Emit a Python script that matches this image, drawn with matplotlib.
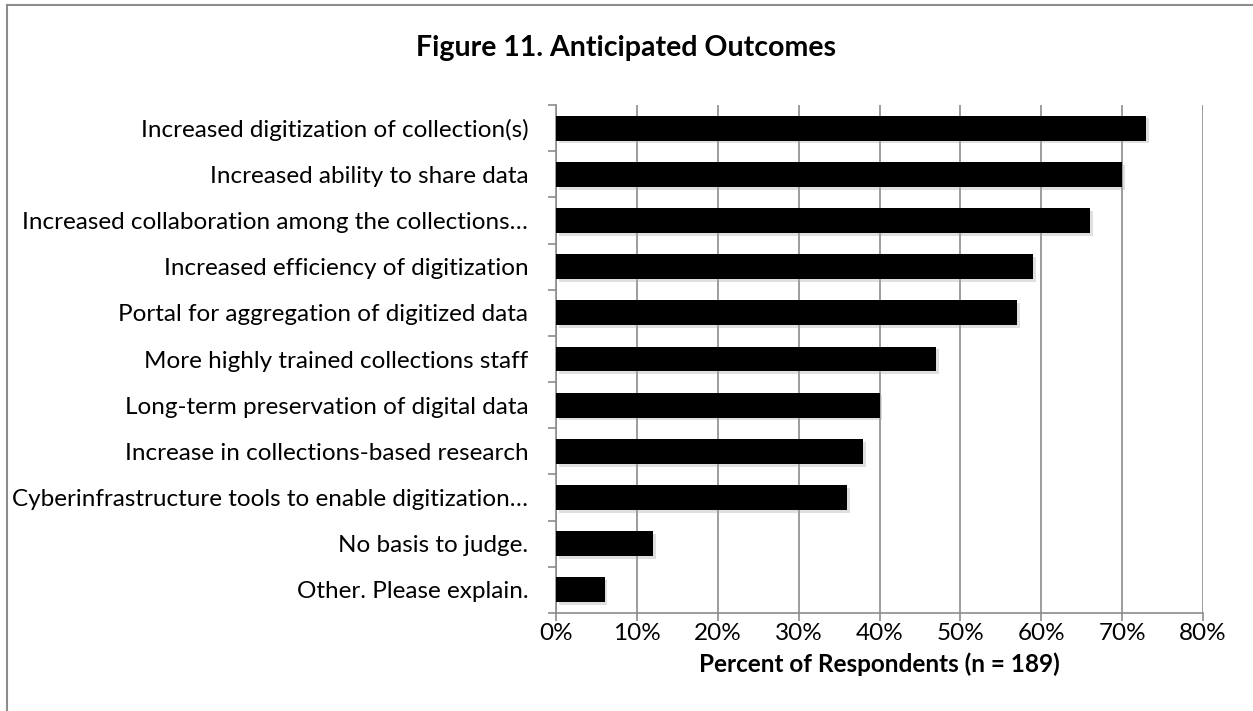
import matplotlib.pyplot as plt
import matplotlib.patheffects as pe
from matplotlib.lines import Line2D
from matplotlib.ticker import PercentFormatter

outcomes = [
    "Increased digitization of collection(s)",
    "Increased ability to share data",
    "Increased collaboration among the collections\u2026",
    "Increased efficiency of digitization",
    "Portal for aggregation of digitized data",
    "More highly trained collections staff",
    "Long-term preservation of digital data",
    "Increase in collections-based research",
    "Cyberinfrastructure tools to enable digitization\u2026",
    "No basis to judge.",
    "Other. Please explain.",
]
percents = [73, 70, 66, 59, 57, 47, 40, 38, 36, 12, 6]

plt.rcParams['font.family'] = ['Lato', 'DejaVu Sans']

W, H = 1253, 711
top, bottom = 105, 613
fig = plt.figure(figsize=(W / 100, H / 100), dpi=100)
ax = fig.add_axes([556 / W, 1 - bottom / H, (1203 - 556) / W, (bottom - top) / H])

pos = list(range(len(outcomes)))[::-1]
bars = ax.barh(pos, percents, height=0.54, color='black', zorder=3)
# soft drop shadow under each bar
for b in bars:
    b.set_path_effects([pe.SimplePatchShadow(offset=(2, -2), shadow_rgbFace='0.65', alpha=0.35), pe.Normal()])

ax.set_xlim(0, 80)
ax.set_ylim(-0.5, len(outcomes) - 0.5)
ax.set_xticks(range(0, 81, 10))
ax.xaxis.set_major_formatter(PercentFormatter(decimals=0))
ax.set_yticks(pos)
ax.set_yticklabels(outcomes)
ax.set_yticks([p + 0.5 for p in range(-1, len(outcomes))], minor=True)
ax.tick_params(axis='y', which='major', length=0, pad=20, labelsize=17.5)
ax.tick_params(axis='y', which='minor', length=6, color='#8c8c8c', width=1.2)
ax.tick_params(axis='x', length=6, color='#8c8c8c', width=1.2, labelsize=17.5, pad=1)

ax.grid(axis='x', color='#8c8c8c', linewidth=1.2, zorder=0)
for s in ['top', 'right']:
    ax.spines[s].set_visible(False)
for s in ['left', 'bottom']:
    ax.spines[s].set_color('#8c8c8c')
    ax.spines[s].set_linewidth(1.2)

fig.text((556 + 1203) / 2 / W, 1 - 664 / H, 'Percent of Respondents (n = 189)', ha='center', va='center',
         fontsize=17.5, fontweight='bold')
fig.text(0.5, 1 - 48 / H, 'Figure 11. Anticipated Outcomes', ha='center', va='center',
         fontsize=20.5, fontweight='bold')

# outer chart frame (top and left edges)
fig.add_artist(Line2D([7 / W, 1], [1 - 5 / H, 1 - 5 / H], color='#8c8c8c', linewidth=1.5))
fig.add_artist(Line2D([7 / W, 7 / W], [0, 1 - 5 / H], color='#8c8c8c', linewidth=1.5))

fig.savefig('out.png', dpi=100)
